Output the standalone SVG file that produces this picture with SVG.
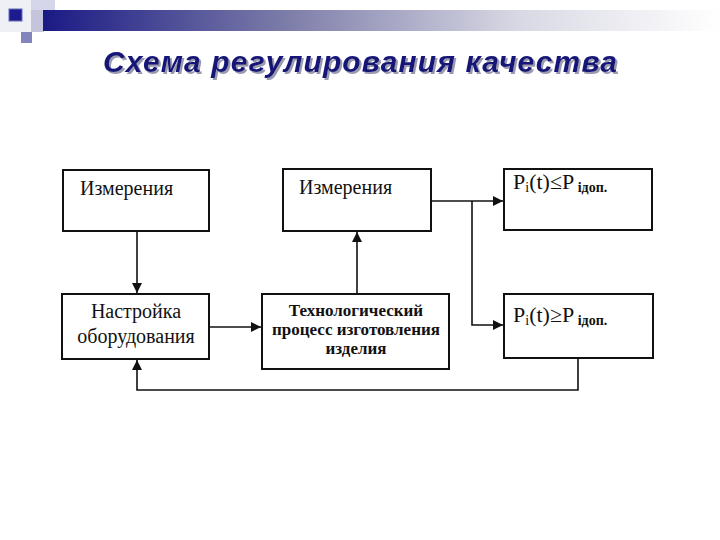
<svg xmlns="http://www.w3.org/2000/svg" width="720" height="540" viewBox="0 0 720 540">
<style>
.box{fill:#fff;stroke:#111;stroke-width:2}
.t{font-family:"Liberation Serif","Times New Roman",serif;fill:#111}
.c{fill:none;stroke:#111;stroke-width:1.6}
</style>
<defs>
<linearGradient id="bar" x1="0" y1="0" x2="1" y2="0">
<stop offset="0" stop-color="#1a1a85"/>
<stop offset="0.35" stop-color="#7a7aa8"/>
<stop offset="0.7" stop-color="#d8d8e4"/>
<stop offset="1" stop-color="#ffffff"/>
</linearGradient>
<filter id="sh" x="-5%" y="-30%" width="110%" height="160%">
<feDropShadow dx="2" dy="2" stdDeviation="0.6" flood-color="#9a9ab0" flood-opacity="1"/>
</filter>
<marker id="ah" viewBox="0 0 10 10" refX="10" refY="5" markerWidth="10" markerHeight="10" markerUnits="userSpaceOnUse" orient="auto">
<path d="M0,0 L10,5 L0,10 Z" fill="#111"/>
</marker>
</defs>
<rect width="720" height="540" fill="#fff"/>
<g id="decor">
<rect x="0" y="0" width="32" height="32" fill="#eef0f6"/>
<rect x="31" y="0" width="24" height="10" fill="#d6d6ea"/>
<rect x="31" y="10" width="13" height="22" fill="#c4c4dc"/>
<rect x="43" y="10" width="677" height="21" fill="url(#bar)"/>
<rect x="9" y="9" width="13" height="12" fill="#1c1c8e" stroke="#6a6ab8" stroke-width="1"/>
<rect x="21" y="32" width="11" height="11" fill="#8484bc"/>
</g>
<g id="title">
<text x="360" y="72" text-anchor="middle" font-family="Liberation Sans,Arial,sans-serif" font-size="30" font-weight="bold" font-style="italic" fill="#141478" textLength="514" filter="url(#sh)">Схема регулирования качества</text>
</g>
<g id="connectors">
<line class="c" x1="137" y1="231" x2="137" y2="293" marker-end="url(#ah)"/>
<line class="c" x1="209" y1="327" x2="261" y2="327" marker-end="url(#ah)"/>
<line class="c" x1="357" y1="294" x2="357" y2="232" marker-end="url(#ah)"/>
<line class="c" x1="431" y1="201" x2="503" y2="201" marker-end="url(#ah)"/>
<polyline class="c" points="472,201 472,325 503,325" marker-end="url(#ah)"/>
<polyline class="c" points="578,358 578,390 137,390 137,360" marker-end="url(#ah)"/>
</g>
<g id="n1">
<rect class="box" x="63" y="170" width="146" height="61"/>
<text class="t" x="80" y="195" font-size="20">Измерения</text>
</g>
<g id="n2">
<rect class="box" x="283" y="169" width="148" height="62"/>
<text class="t" x="299" y="194" font-size="20">Измерения</text>
</g>
<g id="n3">
<rect class="box" x="504" y="169" width="148" height="61"/>
<text class="t" x="513" y="189" font-size="22">P<tspan font-size="14" dy="3">i</tspan><tspan dy="-3">(t)≤P</tspan><tspan font-size="14" dy="3" font-weight="bold"> iдоп.</tspan></text>
</g>
<g id="n4">
<rect class="box" x="62" y="294" width="147" height="65"/>
<text class="t" x="136" y="318" font-size="20" text-anchor="middle">Настройка</text>
<text class="t" x="136" y="343" font-size="20" text-anchor="middle">оборудования</text>
</g>
<g id="n5">
<rect class="box" x="262" y="294" width="187" height="75"/>
<text class="t" x="356" y="316" font-size="17" font-weight="bold" text-anchor="middle">Технологический</text>
<text class="t" x="356" y="335" font-size="17" font-weight="bold" text-anchor="middle">процесс изготовления</text>
<text class="t" x="356" y="354" font-size="17" font-weight="bold" text-anchor="middle">изделия</text>
</g>
<g id="n6">
<rect class="box" x="504" y="294" width="149" height="64"/>
<text class="t" x="513" y="322" font-size="22">P<tspan font-size="14" dy="3">i</tspan><tspan dy="-3">(t)≥P</tspan><tspan font-size="14" dy="3" font-weight="bold"> iдоп.</tspan></text>
</g>
</svg>
